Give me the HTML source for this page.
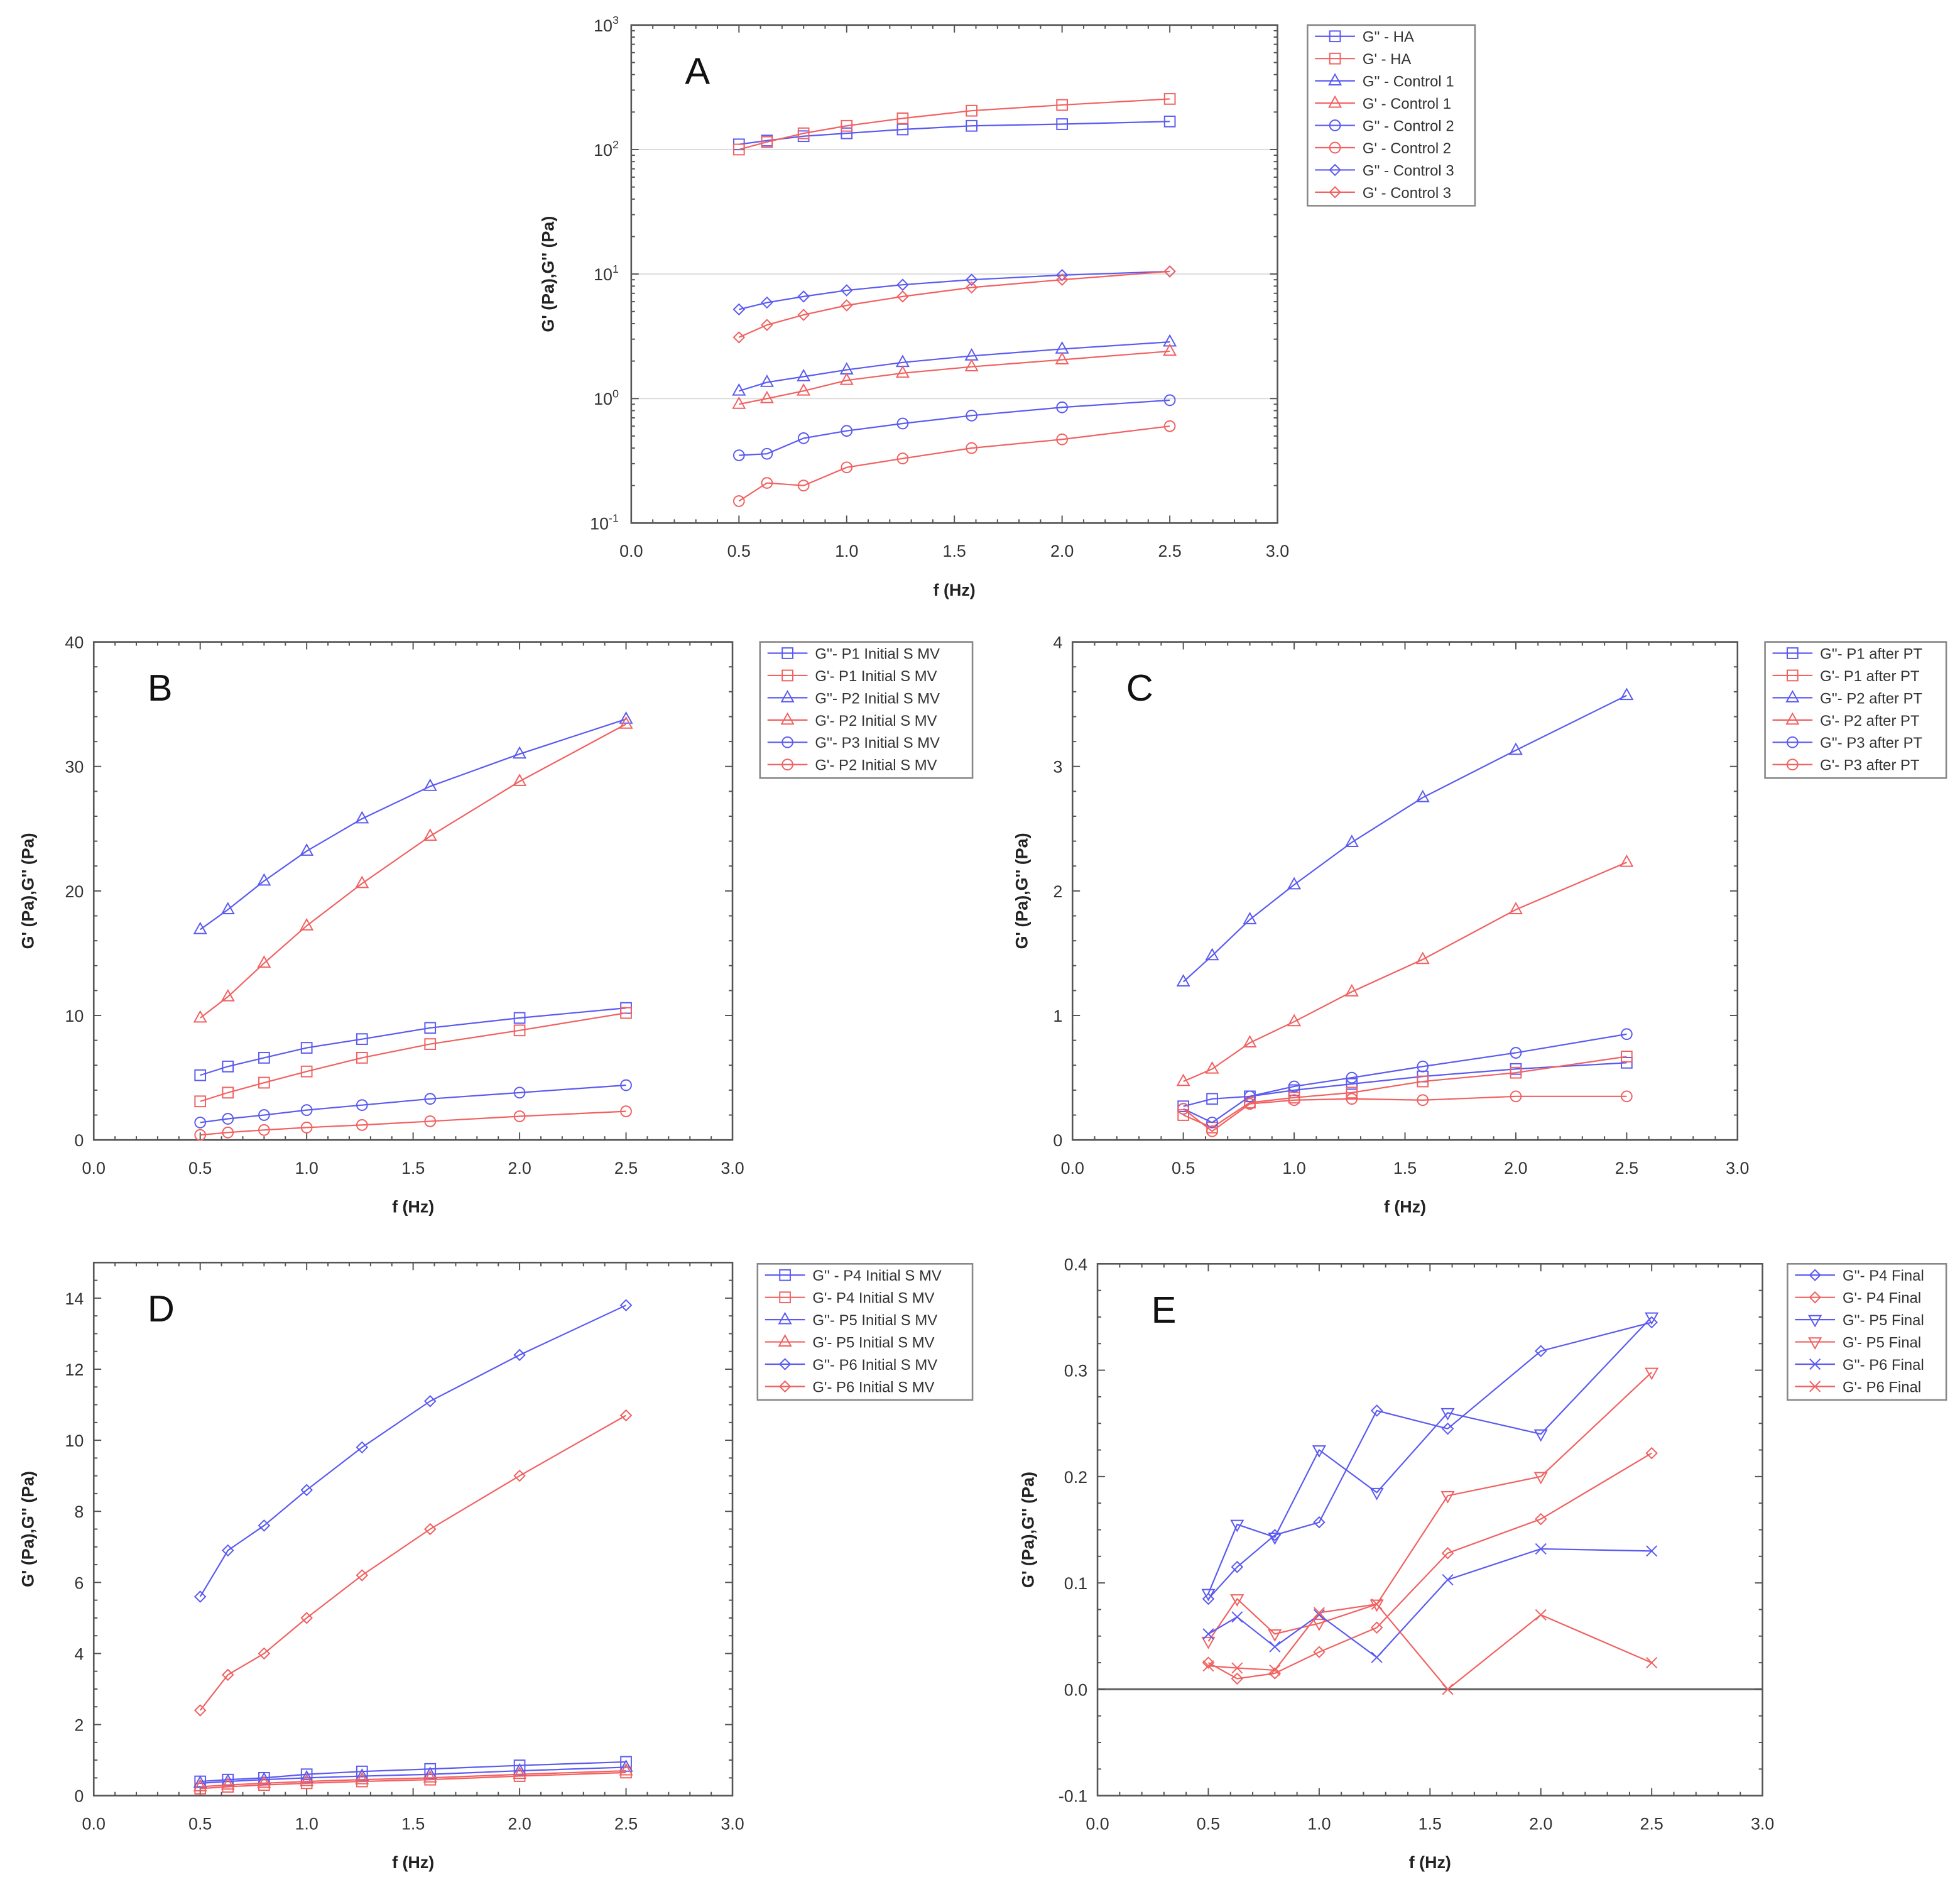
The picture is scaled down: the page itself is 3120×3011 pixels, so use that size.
<!DOCTYPE html>
<html><head><meta charset="utf-8">
<style>
html,body{margin:0;padding:0;background:#fff;}
svg{display:block;}
text{font-family:"Liberation Sans",sans-serif;}
</style></head>
<body>
<svg id="fig" width="3120" height="3011" viewBox="0 0 1568 1512" preserveAspectRatio="none" xmlns="http://www.w3.org/2000/svg"></svg>
<script>
const FREQ=[0.5,0.63,0.8,1.0,1.26,1.58,2.0,2.5];
const X_TICKS=['0.0','0.5','1.0','1.5','2.0','2.5','3.0'];
// Panel A
const A_LABELS=["G'' - HA","G' - HA","G'' - Control 1","G' - Control 1","G'' - Control 2","G' - Control 2","G'' - Control 3","G' - Control 3"];
const A_G2_HA=[110,118,128,135,145,155,160,168];
const A_G1_HA=[100,115,135,155,178,205,228,255];
const A_G2_C1=[1.15,1.35,1.5,1.7,1.95,2.2,2.5,2.85];
const A_G1_C1=[0.9,1.0,1.15,1.4,1.6,1.8,2.05,2.4];
const A_G2_C2=[0.35,0.36,0.48,0.55,0.63,0.73,0.85,0.97];
const A_G1_C2=[0.15,0.21,0.20,0.28,0.33,0.40,0.47,0.60];
const A_G2_C3=[5.2,5.9,6.6,7.4,8.2,9.0,9.8,10.5];
const A_G1_C3=[3.1,3.9,4.7,5.6,6.6,7.8,9.0,10.5];
// Panel B
const B_LABELS=["G''- P1 Initial S MV","G'- P1 Initial S MV","G''- P2 Initial S MV","G'- P2 Initial S MV","G''- P3 Initial S MV","G'- P2 Initial S MV"];
const B_Y_TICKS=['0','10','20','30','40'];
const B_G2_P1=[5.2,5.9,6.6,7.4,8.1,9.0,9.8,10.6];
const B_G1_P1=[3.1,3.8,4.6,5.5,6.6,7.7,8.8,10.2];
const B_G2_P2=[16.9,18.5,20.8,23.2,25.8,28.4,31.0,33.8];
const B_G1_P2=[9.8,11.5,14.2,17.2,20.6,24.4,28.8,33.4];
const B_G2_P3=[1.4,1.7,2.0,2.4,2.8,3.3,3.8,4.4];
const B_G1_P3=[0.4,0.6,0.8,1.0,1.2,1.5,1.9,2.3];
// Panel C
const C_LABELS=["G''- P1 after PT","G'- P1 after PT","G''- P2 after PT","G'- P2 after PT","G''- P3 after PT","G'- P3 after PT"];
const C_Y_TICKS=['0','1','2','3','4'];
const C_G2_P1=[0.27,0.33,0.35,0.40,0.45,0.51,0.57,0.62];
const C_G1_P1=[0.20,0.10,0.30,0.34,0.38,0.47,0.54,0.67];
const C_G2_P2=[1.27,1.48,1.77,2.05,2.39,2.75,3.13,3.57];
const C_G1_P2=[0.47,0.57,0.78,0.95,1.19,1.45,1.85,2.23];
const C_G2_P3=[0.25,0.14,0.35,0.43,0.50,0.59,0.70,0.85];
const C_G1_P3=[0.25,0.07,0.29,0.32,0.33,0.32,0.35,0.35];
// Panel D
const D_LABELS=["G'' - P4 Initial S MV","G'- P4 Initial S MV","G''- P5 Initial S MV","G'- P5 Initial S MV","G''- P6 Initial S MV","G'- P6 Initial S MV"];
const D_Y_TICKS=['0','2','4','6','8','10','12','14'];
const D_G2_P4=[0.4,0.45,0.5,0.6,0.68,0.75,0.85,0.95];
const D_G1_P4=[0.2,0.25,0.3,0.35,0.4,0.45,0.55,0.65];
const D_G2_P5=[0.35,0.4,0.45,0.5,0.55,0.6,0.7,0.8];
const D_G1_P5=[0.25,0.3,0.35,0.4,0.45,0.5,0.6,0.7];
const D_G2_P6=[5.6,6.9,7.6,8.6,9.8,11.1,12.4,13.8];
const D_G1_P6=[2.4,3.4,4.0,5.0,6.2,7.5,9.0,10.7];
// Panel E
const E_LABELS=["G''- P4 Final","G'- P4 Final","G''- P5 Final","G'- P5 Final","G''- P6 Final","G'- P6 Final"];
const E_Y_TICKS=['-0.1','0.0','0.1','0.2','0.3','0.4'];
const E_G2_P4=[0.085,0.115,0.145,0.157,0.262,0.245,0.318,0.345];
const E_G1_P4=[0.025,0.01,0.015,0.035,0.058,0.128,0.16,0.222];
const E_G2_P5=[0.09,0.155,0.143,0.225,0.185,0.26,0.24,0.35];
const E_G1_P5=[0.045,0.085,0.052,0.062,0.08,0.182,0.2,0.298];
const E_G2_P6=[0.052,0.068,0.04,0.07,0.03,0.103,0.132,0.13];
const E_G1_P6=[0.022,0.02,0.018,0.072,0.08,0.0,0.07,0.025];

const BLUE='#5a5af2', RED='#f26060', AX='#555';
const NS='http://www.w3.org/2000/svg';
const svg=document.getElementById('fig');
function mk(tag,parent,attrs){const e=document.createElementNS(NS,tag);for(const k in attrs)e.setAttribute(k,attrs[k]);parent.appendChild(e);return e;}

function marker(g,type,x,y,color){
  const r=4.2;let e;
  if(type==='sq') e=mk('rect',g,{x:x-r,y:y-r,width:2*r,height:2*r});
  else if(type==='ci') e=mk('circle',g,{cx:x,cy:y,r:r});
  else if(type==='tr') e=mk('polygon',g,{points:`${x},${y-r-1} ${x-r-0.5},${y+r-1} ${x+r+0.5},${y+r-1}`});
  else if(type==='td') e=mk('polygon',g,{points:`${x},${y+r+1} ${x-r-0.5},${y-r+1} ${x+r+0.5},${y-r+1}`});
  else if(type==='di') e=mk('polygon',g,{points:`${x},${y-r} ${x+r},${y} ${x},${y+r} ${x-r},${y}`});
  else e=mk('path',g,{d:`M${x-r},${y-r}L${x+r},${y+r}M${x-r},${y+r}L${x+r},${y-r}`});
  e.setAttribute('fill','none');e.setAttribute('stroke',color);e.setAttribute('stroke-width','1');
  
  
}

function panel(c){
  const g=mk('g',svg,{});
  
  
  const X=v=>c.l+(v/3)*(c.r-c.l);
  const Y=c.log?(v=>c.b-(Math.log10(v)-c.y0)/(c.y1-c.y0)*(c.b-c.t)):(v=>c.b-(v-c.y0)/(c.y1-c.y0)*(c.b-c.t));
  if(c.log){for(let d=c.y0+1;d<c.y1;d++){const gl=mk('line',g,{x1:c.l,x2:c.r,y1:Y(Math.pow(10,d)),y2:Y(Math.pow(10,d)),stroke:'#ddd','stroke-width':1});
    
    }}
  if(c.zero){const z=mk('line',g,{x1:c.l,x2:c.r,y1:Y(0),y2:Y(0),stroke:'#666','stroke-width':1.6});
    
    }
  const fr=mk('rect',g,{x:c.l,y:c.t,width:c.r-c.l,height:c.b-c.t,fill:'none',stroke:AX,'stroke-width':1.3});
  
  
  const tk=mk('g',g,{stroke:AX,'stroke-width':1});
  
  
  for(let i=0;i<=30;i++){const x=X(i/10),L=(i%5===0)?6:3;
    mk('line',tk,{x1:x,x2:x,y1:c.b,y2:c.b-L});mk('line',tk,{x1:x,x2:x,y1:c.t,y2:c.t+L});}
  X_TICKS.forEach(s=>{const t=mk('text',g,{x:X(+s),y:c.b+27,'font-size':13.5,'text-anchor':'middle',fill:'#333'});t.textContent=s;
    
    });
  if(c.log){
    for(let d=c.y0;d<=c.y1;d++){
      const y=Y(Math.pow(10,d));mk('line',tk,{x1:c.l,x2:c.l+6,y1:y,y2:y});mk('line',tk,{x1:c.r,x2:c.r-6,y1:y,y2:y});
      const t=mk('text',g,{x:c.l-10,y:y+5,'font-size':13.5,'text-anchor':'end',fill:'#333'});
      t.textContent='10';const s=mk('tspan',t,{dy:-6,'font-size':9});s.textContent=String(d);
      
      
      if(d<c.y1)for(let m=2;m<10;m++){const ym=Y(m*Math.pow(10,d));mk('line',tk,{x1:c.l,x2:c.l+3,y1:ym,y2:ym});mk('line',tk,{x1:c.r,x2:c.r-3,y1:ym,y2:ym});}
    }
  } else {
    const step=(+c.yt[1])-(+c.yt[0]);
    const nm=Math.round((c.y1-c.y0)/(step/c.minor));
    for(let i=0;i<=nm;i++){const v=c.y0+i*step/c.minor,y=Y(v),L=(i%c.minor===0)?6:3;
      mk('line',tk,{x1:c.l,x2:c.l+L,y1:y,y2:y});mk('line',tk,{x1:c.r,x2:c.r-L,y1:y,y2:y});}
    c.yt.forEach(s=>{const t=mk('text',g,{x:c.l-8,y:Y(+s)+5,'font-size':13.5,'text-anchor':'end',fill:'#333'});t.textContent=s;
      
      });
  }
  const xt=mk('text',g,{x:(c.l+c.r)/2,y:c.b+58,'font-size':13.5,'font-weight':'bold','text-anchor':'middle',fill:'#222'});xt.textContent='f (Hz)';
  
  
  const yx=c.ytx,yy=(c.t+c.b)/2;
  const yt=mk('text',g,{x:yx,y:yy,'font-size':13.5,'font-weight':'bold','text-anchor':'middle',fill:'#222',transform:`rotate(-90 ${yx} ${yy})`});yt.textContent="G' (Pa),G'' (Pa)";
  
  
  const pl=mk('text',g,{x:c.l+43,y:c.t+47,'font-size':30,fill:'#111'});pl.textContent=c.id;
  
  
  c.series.forEach((s,i)=>{
    const sg=mk('g',g,{});
    
    
    const pts=FREQ.map((f,j)=>[X(f),Y(s.v[j])]);
    const ln=mk('polyline',sg,{points:pts.map(p=>p.join(',')).join(' '),fill:'none',stroke:s.c,'stroke-width':1.1});
    
    
    pts.forEach(p=>marker(sg,s.m,p[0],p[1],s.c));
  });
  const lg=mk('g',g,{});
  
  
  const sp=17.8,h=c.series.length*sp+2;
  const lb=mk('rect',lg,{x:c.lx,y:c.ly,width:c.lw,height:h,fill:'#fff',stroke:'#888','stroke-width':1.3});
  
  
  c.series.forEach((s,i)=>{
    const y=c.ly+9+i*sp;
    const e=mk('g',lg,{});
    
    
    mk('line',e,{x1:c.lx+6,x2:c.lx+38,y1:y,y2:y,stroke:s.c,'stroke-width':1.1});
    marker(e,s.m,c.lx+22,y,s.c);
    const t=mk('text',e,{x:c.lx+44,y:y+4.5,'font-size':12,fill:'#333'});t.textContent=s.name;
  });
}

panel({id:'A',l:505,r:1022,t:20,b:418,log:true,y0:-1,y1:3,ytx:443,lx:1046,ly:20,lw:134,
  series:[
    {name:A_LABELS[0],v:A_G2_HA,c:BLUE,m:'sq'},{name:A_LABELS[1],v:A_G1_HA,c:RED,m:'sq'},
    {name:A_LABELS[2],v:A_G2_C1,c:BLUE,m:'tr'},{name:A_LABELS[3],v:A_G1_C1,c:RED,m:'tr'},
    {name:A_LABELS[4],v:A_G2_C2,c:BLUE,m:'ci'},{name:A_LABELS[5],v:A_G1_C2,c:RED,m:'ci'},
    {name:A_LABELS[6],v:A_G2_C3,c:BLUE,m:'di'},{name:A_LABELS[7],v:A_G1_C3,c:RED,m:'di'}]});
panel({id:'B',l:75,r:586,t:513,b:911,y0:0,y1:40,yt:B_Y_TICKS,minor:5,ytx:27,lx:608,ly:513,lw:170,
  series:[
    {name:B_LABELS[0],v:B_G2_P1,c:BLUE,m:'sq'},{name:B_LABELS[1],v:B_G1_P1,c:RED,m:'sq'},
    {name:B_LABELS[2],v:B_G2_P2,c:BLUE,m:'tr'},{name:B_LABELS[3],v:B_G1_P2,c:RED,m:'tr'},
    {name:B_LABELS[4],v:B_G2_P3,c:BLUE,m:'ci'},{name:B_LABELS[5],v:B_G1_P3,c:RED,m:'ci'}]});
panel({id:'C',l:858,r:1390,t:513,b:911,y0:0,y1:4,yt:C_Y_TICKS,minor:5,ytx:822,lx:1412,ly:513,lw:145,
  series:[
    {name:C_LABELS[0],v:C_G2_P1,c:BLUE,m:'sq'},{name:C_LABELS[1],v:C_G1_P1,c:RED,m:'sq'},
    {name:C_LABELS[2],v:C_G2_P2,c:BLUE,m:'tr'},{name:C_LABELS[3],v:C_G1_P2,c:RED,m:'tr'},
    {name:C_LABELS[4],v:C_G2_P3,c:BLUE,m:'ci'},{name:C_LABELS[5],v:C_G1_P3,c:RED,m:'ci'}]});
panel({id:'D',l:75,r:586,t:1009,b:1435,y0:0,y1:15,yt:D_Y_TICKS,minor:4,ytx:27,lx:606,ly:1010,lw:172,
  series:[
    {name:D_LABELS[0],v:D_G2_P4,c:BLUE,m:'sq'},{name:D_LABELS[1],v:D_G1_P4,c:RED,m:'sq'},
    {name:D_LABELS[2],v:D_G2_P5,c:BLUE,m:'tr'},{name:D_LABELS[3],v:D_G1_P5,c:RED,m:'tr'},
    {name:D_LABELS[4],v:D_G2_P6,c:BLUE,m:'di'},{name:D_LABELS[5],v:D_G1_P6,c:RED,m:'di'}]});
panel({id:'E',l:878,r:1410,t:1010,b:1435,y0:-0.1,y1:0.4,yt:E_Y_TICKS,minor:4,zero:true,ytx:827,lx:1430,ly:1010,lw:127,
  series:[
    {name:E_LABELS[0],v:E_G2_P4,c:BLUE,m:'di'},{name:E_LABELS[1],v:E_G1_P4,c:RED,m:'di'},
    {name:E_LABELS[2],v:E_G2_P5,c:BLUE,m:'td'},{name:E_LABELS[3],v:E_G1_P5,c:RED,m:'td'},
    {name:E_LABELS[4],v:E_G2_P6,c:BLUE,m:'x'},{name:E_LABELS[5],v:E_G1_P6,c:RED,m:'x'}]});
</script>
</body></html>
